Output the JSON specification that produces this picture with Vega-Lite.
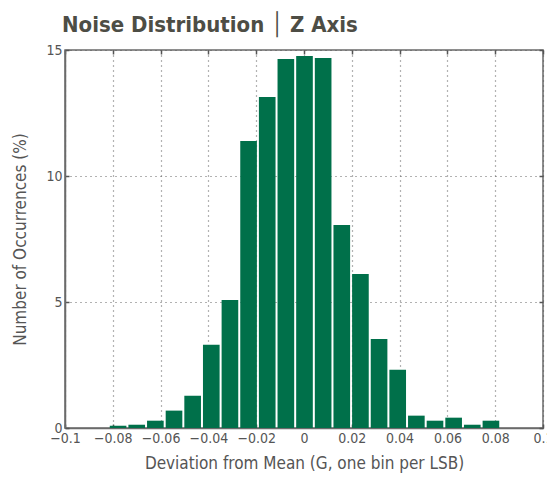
{
  "$schema": "https://vega.github.io/schema/vega-lite/v6.json",
  "autosize": "none",
  "width": 478,
  "height": 378,
  "padding": {"left": 65, "top": 50, "right": 4, "bottom": 50},
  "background": "white",
  "title": {
    "text": "Noise Distribution \u2502 Z Axis",
    "anchor": "start",
    "frame": "group",
    "font": "DejaVu Sans Condensed, sans-serif",
    "fontSize": 22,
    "fontWeight": "bold",
    "color": "#4d4d45",
    "offset": 6,
    "dx": -3
  },
  "data": {
    "values": [
      {"bin_start": -0.0819, "bin_end": -0.0741, "pct": 0.09},
      {"bin_start": -0.0741, "bin_end": -0.0663, "pct": 0.13},
      {"bin_start": -0.0663, "bin_end": -0.0585, "pct": 0.29},
      {"bin_start": -0.0585, "bin_end": -0.0507, "pct": 0.69},
      {"bin_start": -0.0507, "bin_end": -0.0429, "pct": 1.28},
      {"bin_start": -0.0429, "bin_end": -0.0351, "pct": 3.3},
      {"bin_start": -0.0351, "bin_end": -0.0273, "pct": 5.08},
      {"bin_start": -0.0273, "bin_end": -0.0195, "pct": 11.39},
      {"bin_start": -0.0195, "bin_end": -0.0117, "pct": 13.13},
      {"bin_start": -0.0117, "bin_end": -0.0039, "pct": 14.64},
      {"bin_start": -0.0039, "bin_end": 0.0039, "pct": 14.76},
      {"bin_start": 0.0039, "bin_end": 0.0117, "pct": 14.68},
      {"bin_start": 0.0117, "bin_end": 0.0195, "pct": 8.06},
      {"bin_start": 0.0195, "bin_end": 0.0273, "pct": 6.11},
      {"bin_start": 0.0273, "bin_end": 0.0351, "pct": 3.53},
      {"bin_start": 0.0351, "bin_end": 0.0429, "pct": 2.31},
      {"bin_start": 0.0429, "bin_end": 0.0507, "pct": 0.49},
      {"bin_start": 0.0507, "bin_end": 0.0585, "pct": 0.29},
      {"bin_start": 0.0585, "bin_end": 0.0663, "pct": 0.41},
      {"bin_start": 0.0663, "bin_end": 0.0741, "pct": 0.13},
      {"bin_start": 0.0741, "bin_end": 0.0819, "pct": 0.29}
    ]
  },
  "layer": [
    {
      "mark": {"type": "bar", "color": "#00704a", "binSpacing": 2},
      "encoding": {
        "x": {
          "field": "bin_start",
          "type": "quantitative",
          "bin": "binned",
          "scale": {"domain": [-0.1, 0.1], "nice": false, "zero": false},
          "axis": {
            "values": [-0.1, -0.08, -0.06, -0.04, -0.02, 0, 0.02, 0.04, 0.06, 0.08, 0.1],
            "format": "~g",
            "title": "Deviation from Mean (G, one bin per LSB)",
            "labelOverlap": false,
            "labelBound": false,
            "labelFlush": false
          }
        },
        "x2": {"field": "bin_end"},
        "y": {
          "field": "pct",
          "type": "quantitative",
          "scale": {"domain": [0, 15], "nice": false},
          "axis": {
            "values": [0, 5, 10, 15],
            "title": "Number of Occurrences (%)",
            "titlePadding": 16
          }
        }
      }
    },
    {
      "mark": {"type": "bar", "opacity": 0},
      "encoding": {
        "x": {
          "field": "bin_start",
          "type": "quantitative",
          "bin": "binned",
          "axis": {
            "orient": "top",
            "values": [-0.1, -0.08, -0.06, -0.04, -0.02, 0, 0.02, 0.04, 0.06, 0.08, 0.1],
            "labels": false,
            "grid": false,
            "title": null,
            "domain": false
          }
        },
        "x2": {"field": "bin_end"},
        "y": {
          "field": "pct",
          "type": "quantitative",
          "axis": {
            "orient": "right",
            "values": [0, 5, 10, 15],
            "labels": false,
            "grid": false,
            "title": null,
            "domain": false
          }
        }
      }
    }
  ],
  "resolve": {"axis": {"x": "independent", "y": "independent"}},
  "config": {
    "view": {"stroke": "#6a6a6a", "strokeWidth": 1.5},
    "axis": {
      "labelFont": "DejaVu Sans Condensed, sans-serif",
      "titleFont": "DejaVu Sans Condensed, sans-serif",
      "labelFontSize": 14,
      "titleFontSize": 17,
      "titleFontWeight": "normal",
      "labelColor": "#555555",
      "titleColor": "#555555",
      "domainColor": "#6a6a6a",
      "domainWidth": 1.5,
      "tickColor": "#555555",
      "tickSize": -4,
      "tickWidth": 1.5,
      "labelPadding": 7,
      "grid": true,
      "gridColor": "#555555",
      "gridDash": [1, 4],
      "gridWidth": 1.2,
      "gridOpacity": 0.9
    },
    "axisX": {"titlePadding": 10}
  }
}
